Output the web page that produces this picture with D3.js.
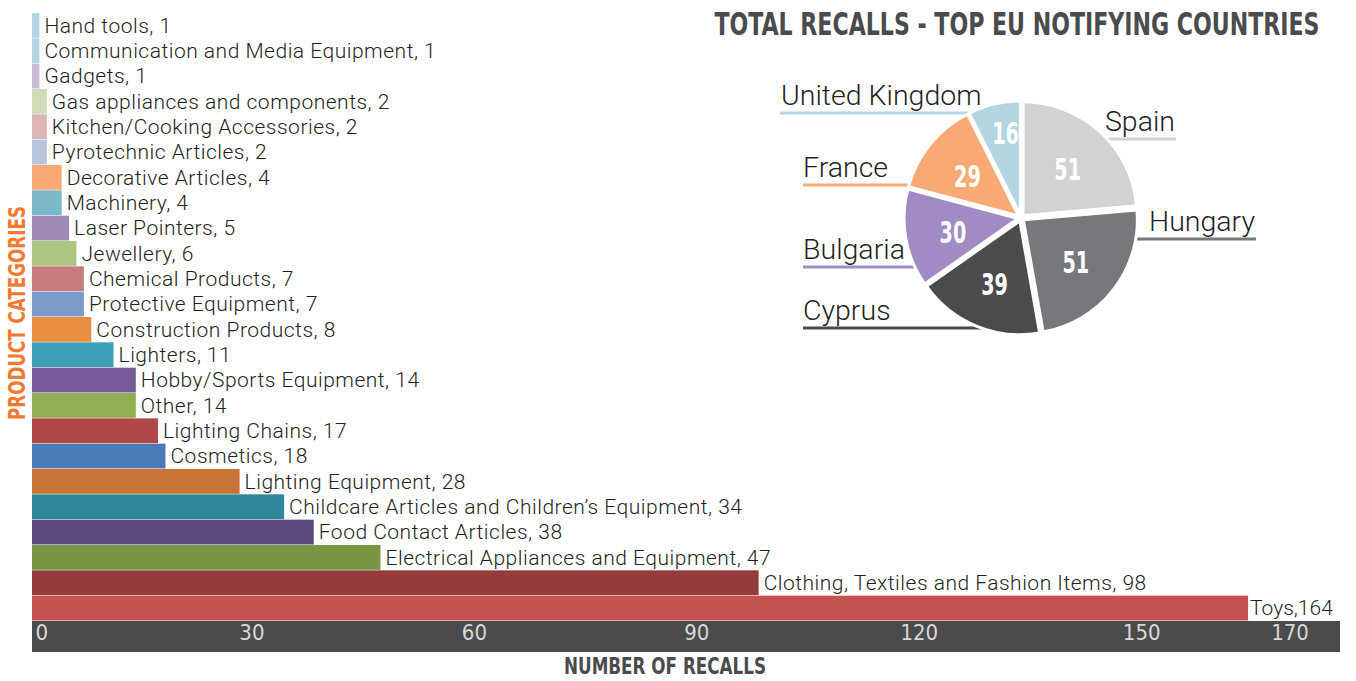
<!DOCTYPE html>
<html>
<head>
<meta charset="utf-8">
<script src="https://cdn.jsdelivr.net/npm/d3@7/dist/d3.min.js"></script>
<style>
  body { margin: 0; background: #fff; }
  svg { display: block; }
  .lbl { font-family: Roboto, "Liberation Sans", sans-serif; font-weight: 300; fill: #231f20; }
  .cond { font-family: "Liberation Sans Narrow", "DejaVu Sans Condensed", "Roboto Condensed", sans-serif; font-weight: bold; }
</style>
</head>
<body>
<svg width="1356" height="681"></svg>
<script>
// bar chart data (top to bottom)
var categories = ["Hand tools", "Communication and Media Equipment", "Gadgets", "Gas appliances and components",
  "Kitchen/Cooking Accessories", "Pyrotechnic Articles", "Decorative Articles", "Machinery", "Laser Pointers",
  "Jewellery", "Chemical Products", "Protective Equipment", "Construction Products", "Lighters",
  "Hobby/Sports Equipment", "Other", "Lighting Chains", "Cosmetics", "Lighting Equipment",
  "Childcare Articles and Children\u2019s Equipment", "Food Contact Articles", "Electrical Appliances and Equipment",
  "Clothing, Textiles and Fashion Items", "Toys"]
var recalls = [1, 1, 1, 2, 2, 2, 4, 4, 5, 6, 7, 7, 8, 11, 14, 14, 17, 18, 28, 34, 38, 47, 98, 164]
var barColors = ["#b4d5e1", "#b4d5e1", "#c6bad4", "#cfddb6", "#ddb5b5", "#b6c4dd", "#f9a973", "#7bb9ca", "#9f8cb6",
  "#aec785", "#c97c7b", "#7c9bca", "#e98f40", "#3ba0b8", "#775b98", "#93ad53", "#b04846", "#4a7ab7", "#c87434",
  "#2f8899", "#5e4b7e", "#7a9445", "#963b3b", "#c4524f"]
var xTicks = [0, 30, 60, 90, 120, 150, 170]

// pie data
var countries = ["Spain", "Hungary", "Cyprus", "Bulgaria", "France", "United Kingdom"]
var countryRecalls = [51, 51, 39, 30, 29, 16]
var pieColors = ["#d1d2d4", "#77787b", "#4a4b4d", "#a08bc2", "#f9a973", "#b4d5e1"]

var svg = d3.select("svg")

// ---------- bar chart ----------
var mLeft = 32, mRight = 1340, mTop = 13, mBottom = 620
var x = d3.scaleLinear().domain([0, 170]).range([mLeft, mLeft + 170 * 7.415])
var y = d3.scaleBand().domain(categories).range([mTop, mBottom]).paddingInner(0.04)

var bars = svg.append("g")
bars.selectAll("rect")
  .data(categories)
  .enter()
  .append("rect")
  .attr("x", x(0))
  .attr("y", d => y(d))
  .attr("width", (d, i) => x(recalls[i]) - x(0))
  .attr("height", y.bandwidth() + 0.5)
  .attr("fill", (d, i) => barColors[i])

bars.selectAll("text")
  .data(categories)
  .enter()
  .append("text")
  .attr("class", "lbl")
  .attr("x", (d, i) => x(recalls[i]) + (i == 23 ? 2 : 5))
  .attr("y", d => y(d) + y.bandwidth() / 2)
  .attr("dy", "0.36em")
  .attr("font-size", 21)
  .style("letter-spacing", (d, i) => i == 23 ? "0px" : "0.5px")
  .text((d, i) => i == 23 ? d + "," + recalls[i] : d + ", " + recalls[i])

// axis band
svg.append("rect")
  .attr("x", mLeft).attr("y", 621)
  .attr("width", mRight - mLeft).attr("height", 31)
  .attr("fill", "#4a4b4d")

var axis = d3.axisBottom(x).tickValues(xTicks).tickSize(0).tickPadding(0)
var axisG = svg.append("g").attr("transform", "translate(0,629)").call(axis)
axisG.select(".domain").remove()
axisG.selectAll("text")
  .attr("class", "cond")
  .style("font-weight", "normal")
  .attr("font-size", 22)
  .attr("fill", "#d8d8d8")
  .attr("dy", "0.5em")
  .attr("text-anchor", d => d == 0 ? "start" : "middle")
  .attr("dx", d => d == 0 ? 3 : -3)

svg.append("text")
  .attr("class", "cond")
  .attr("x", 665).attr("y", 674)
  .attr("text-anchor", "middle")
  .attr("font-size", 23)
  .attr("fill", "#4a4b4d")
  .attr("textLength", 202).attr("lengthAdjust", "spacingAndGlyphs")
  .text("NUMBER OF RECALLS")

svg.append("text")
  .attr("class", "cond")
  .attr("transform", "translate(25,313) rotate(-90)")
  .attr("text-anchor", "middle")
  .attr("font-size", 23)
  .attr("fill", "#f07a30")
  .attr("textLength", 214).attr("lengthAdjust", "spacingAndGlyphs")
  .text("PRODUCT CATEGORIES")

// ---------- pie ----------
svg.append("text")
  .attr("class", "cond")
  .attr("x", 1017).attr("y", 35)
  .attr("text-anchor", "middle")
  .attr("font-size", 32)
  .attr("fill", "#4a4b4d")
  .attr("textLength", 605).attr("lengthAdjust", "spacingAndGlyphs")
  .text("TOTAL RECALLS - TOP EU NOTIFYING COUNTRIES")

var cx = 1021, cy = 218, r = 114
var pie = d3.pie().sort(null).value(d => d)
var arcs = pie(countryRecalls)
var arc = d3.arc().innerRadius(0).outerRadius(r)
var labelArc = d3.arc().innerRadius(r * 0.58).outerRadius(r * 0.58)

// callout layout: side, line y relative to pie centre, outer x of line
var callouts = [
  { side: "right", dy: -79, end: 1176 },
  { side: "right", dy: 21, end: 1256 },
  { side: "left", dy: 110, end: 803 },
  { side: "left", dy: 49, end: 803 },
  { side: "left", dy: -33, end: 803 },
  { side: "left", dy: -105, end: 780 }
]
// lines first, so the pie covers their inner ends
var cg = svg.append("g")
callouts.forEach(function(c, i) {
  var py = cy + c.dy
  var inner = c.side == "right" ? cx + 20 : cx - 20
  cg.append("line")
    .attr("x1", c.end).attr("x2", inner)
    .attr("y1", py).attr("y2", py)
    .attr("stroke", pieColors[i])
    .attr("stroke-width", 3)
  cg.append("text")
    .attr("class", "lbl")
    .attr("x", c.side == "right" ? c.end - 1 : c.end + (i == 5 ? 1 : 0))
    .attr("y", py - 8)
    .attr("text-anchor", c.side == "right" ? "end" : "start")
    .attr("font-size", 28.5)
    .text(countries[i])
})

var pg = svg.append("g").attr("transform", "translate(" + cx + "," + cy + ")")

function shift(d, k) {
  var a = (d.startAngle + d.endAngle) / 2
  return [Math.sin(a) * k, -Math.cos(a) * k]
}

pg.selectAll("path")
  .data(arcs)
  .enter()
  .append("path")
  .attr("d", arc)
  .attr("transform", d => "translate(" + shift(d, 3) + ")")
  .attr("fill", (d, i) => pieColors[i])
  .attr("stroke", "#fff")
  .attr("stroke-width", 3)
  .attr("stroke-linejoin", "round")

pg.selectAll("text.val")
  .data(arcs)
  .enter()
  .append("text")
  .attr("class", "val cond")
  .attr("transform", function(d, i) {
    var c = labelArc.centroid(d)
    var s = shift(d, 3)
    var k = i == 5 ? 1.3 : 1
    var ox = i == 5 ? 5 : 0
    return "translate(" + (c[0] * k + s[0] + ox) + "," + (c[1] * k + s[1] + 2) + ") scale(0.82,1.18)"
  })
  .attr("text-anchor", "middle")
  .attr("dy", "0.36em")
  .attr("font-size", 26)
  .attr("fill", "#fff")
  .text(d => d.data)
</script>
</body>
</html>
